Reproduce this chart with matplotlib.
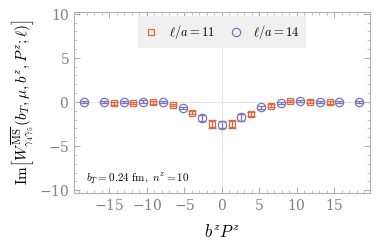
import numpy as np
import matplotlib
matplotlib.use("Agg")
import matplotlib.pyplot as plt
from matplotlib.lines import Line2D
from matplotlib.ticker import MultipleLocator

plt.rcParams['mathtext.fontset'] = 'cm'
plt.rcParams['font.family'] = 'serif'
plt.rcParams['font.serif'] = ['DejaVu Serif']
plt.rcParams['axes.formatter.use_mathtext'] = True

# b^z P^z step for one lattice unit of z
step = 1.309

# l/a = 11 (orange squares)
z11 = [-11, -9, -7, -5, -3, -1, 1, 3, 5, 7, 9, 11]
y11 = [-0.15, -0.1, -0.05, -0.35, -1.2, -2.45, -2.45, -1.35, -0.4, 0.1, 0.05, -0.05]
e11 = [0.15, 0.15, 0.15, 0.15, 0.2, 0.45, 0.45, 0.2, 0.15, 0.15, 0.15, 0.15]

# l/a = 14 (blue circles)
z14 = [-14, -12, -10, -8, -6, -4, -2, 0, 2, 4, 6, 8, 10, 12, 14]
y14 = [0.0, 0.0, 0.0, 0.05, -0.05, -0.7, -1.8, -2.55, -1.75, -0.6, -0.1, 0.1, 0.0, 0.0, 0.0]
e14 = [0.12, 0.12, 0.12, 0.12, 0.12, 0.15, 0.35, 0.45, 0.35, 0.15, 0.12, 0.12, 0.12, 0.12, 0.12]

c_or = '#E8653A'
c_bl = '#7A73C0'

x11 = np.array(z11) * step
x14 = np.array(z14) * step

fig = plt.figure(figsize=(3.82, 2.43), dpi=100)
ax = fig.add_axes([0.194, 0.206, 0.775, 0.745])

ax.axhline(0, color='#E6E6E6', lw=0.8, zorder=0)
ax.axvline(0, color='#E6E6E6', lw=0.8, zorder=0)

ax.errorbar(x14, y14, yerr=e14, fmt='o', ms=6, mfc='none', mec=c_bl, mew=0.9,
            ecolor=c_bl, elinewidth=0.9, capsize=3, capthick=0.9)
ax.errorbar(x11, y11, yerr=e11, fmt='s', ms=5, mfc='none', mec=c_or, mew=0.9,
            ecolor=c_or, elinewidth=0.9, capsize=3, capthick=0.9)

ax.set_xlim(-19.7, 19.8)
ax.set_ylim(-10.3, 10.2)
ax.xaxis.set_major_locator(MultipleLocator(5))
ax.xaxis.set_minor_locator(MultipleLocator(1))
ax.yaxis.set_major_locator(MultipleLocator(5))
ax.yaxis.set_minor_locator(MultipleLocator(1))
ax.tick_params(which='both', direction='in', top=True, right=True, color='#AAAAAA',
               labelcolor='#808080', labelsize=10)
ax.tick_params(which='major', length=4, width=0.7)
ax.tick_params(which='minor', length=2, width=0.5)
for s in ax.spines.values():
    s.set_color('#B0B0B0')
    s.set_linewidth(0.8)

ax.set_xlabel(r'$b^z P^z$', fontsize=12, labelpad=8)
ax.set_ylabel(r'$\mathrm{Im}\left[W^{\overline{\mathrm{MS}}}_{\gamma_4\gamma_5}(b_T,\mu,b^z,P^z;\ell)\right]$',
              fontsize=11, labelpad=2)

ax.text(0.04, 0.07, r'$b_T = 0.24\ \mathrm{fm},\ n^z = 10$', transform=ax.transAxes,
        fontsize=8)

handles = [Line2D([], [], ls='none', marker='s', ms=5, mfc='none', mec=c_or, mew=0.9),
           Line2D([], [], ls='none', marker='o', ms=6, mfc='none', mec=c_bl, mew=0.9)]
leg = ax.legend(handles, [r'$\ell/a = 11$', r'$\ell/a = 14$'], ncol=2,
                loc='upper center', bbox_to_anchor=(0.5, 0.975), fontsize=9,
                frameon=True, fancybox=False, framealpha=1, borderpad=0.55,
                handletextpad=0.9, columnspacing=1.2, handlelength=1.0,
                borderaxespad=0.0)
leg.get_frame().set_facecolor('#F0F0F0')
leg.get_frame().set_edgecolor('none')

fig.savefig('out.png', dpi=100)
